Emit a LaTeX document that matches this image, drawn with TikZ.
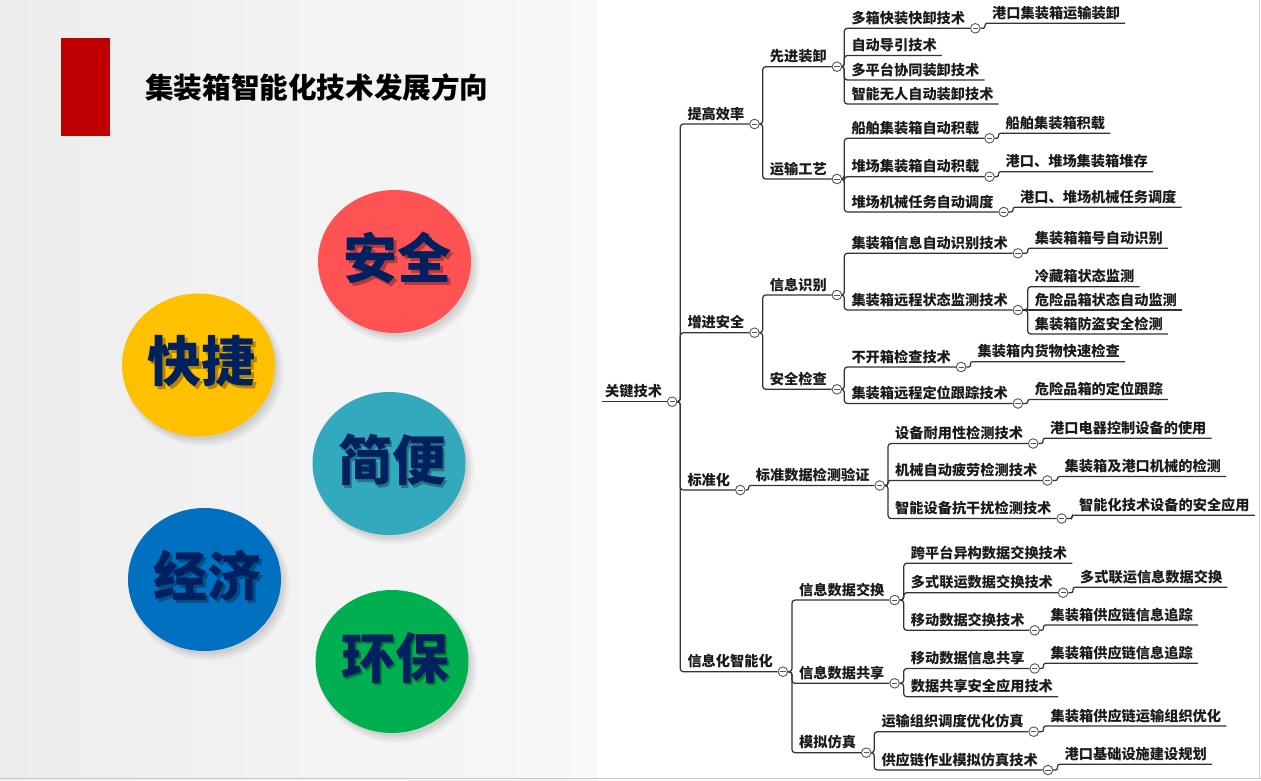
\documentclass[tikz,border=0pt]{standalone}
\usepackage{fontspec}
\newfontfamily\cjk{Noto Sans CJK SC}
\usetikzlibrary{calc,shapes.geometric}
\pgfdeclarelayer{bg}\pgfdeclarelayer{lines}
\pgfsetlayers{bg,lines,main}
\definecolor{bgl}{HTML}{EDEDED}
\definecolor{bgr}{HTML}{F8F8F8}
\definecolor{redbar}{HTML}{C00000}
\definecolor{navy}{HTML}{002060}
\definecolor{cred}{HTML}{FF5252}
\definecolor{cyel}{HTML}{FFC000}
\definecolor{cteal}{HTML}{33A9BD}
\definecolor{cblue}{HTML}{0070C0}
\definecolor{cgreen}{HTML}{00B050}
\definecolor{lnc}{HTML}{333333}
\definecolor{crc}{HTML}{555555}
\definecolor{txc}{HTML}{1A1A1A}
\newcommand\mmc[4]{%
  \coordinate (#1-s) at (#2,#3);
  \node[mmtext] (#1) at (#2+7,#3-5) {#4};
  \node[mmcirc] (#1-c) at ($(#1.east|-#1-s)+(10,0)$) {};
  \coordinate (#1-e) at (#1-c.west);}
\newcommand\mml[4]{%
  \coordinate (#1-s) at (#2,#3);
  \node[mmtext] (#1) at (#2+7,#3-5) {#4};
  \coordinate (#1-e) at ($(#1.east|-#1-s)+(5,0)$);}
\newcommand\mmlink[3][3]{\draw[conn,rounded corners=#1] (#2-c.east) -- (#2-c.east -| #3-s) -- (#3-s) -- (#3-e);}
\newcommand\bubble[5]{%
  \fill[black,opacity=0.04] (#2+5,#3+6) ellipse [x radius=80, y radius=75];
  \fill[black,opacity=0.05] (#2+4,#3+5) ellipse [x radius=78, y radius=73];
  \fill[black,opacity=0.06] (#2+3,#3+4) ellipse [x radius=76, y radius=71];
  \node[ellipse,fill=#4,minimum width=153pt,minimum height=143pt,inner sep=0] (#1) at (#2,#3) {};
  \node[bubtext,text=black,opacity=0.3] (#1-sh) at ($(#1)+(5.5,-1)$) {#5};
  \node[bubtext] (#1-t) at ($(#1)+(3,-3.5)$) {#5};}
\begin{document}
\begin{tikzpicture}[x=1pt,y=-1pt,
  mmtext/.style={anchor=base west,inner sep=0,text=txc,font={\cjk\bfseries\fontsize{14.2}{14.2}\selectfont}},
  mmcirc/.style={circle,draw=crc,line width=0.9pt,fill=white,minimum size=9.6pt,inner sep=0,
    path picture={\draw[crc,line width=0.9pt] ([xshift=-2.6pt]path picture bounding box.center) -- ([xshift=2.6pt]path picture bounding box.center);}},
  conn/.style={draw=lnc,line width=1.25pt},
  bubtext/.style={inner sep=0,text=navy,font={\cjk\bfseries\fontsize{54}{54}\selectfont}}]
\useasboundingbox (0,0) rectangle (1261,780);
\begin{pgfonlayer}{bg}
\shade[left color=bgl,right color=bgr] (0,0) rectangle (597,780);
\fill[white] (597,0) rectangle (1261,780);
\draw[black!22,line width=1pt] (0,778.5) -- (1261,778.5);
\draw[black!18,line width=1pt] (1259.5,0) -- (1259.5,778);
\end{pgfonlayer}
% left panel
\fill[redbar] (61,38) rectangle (110,136);
\node[anchor=base west,inner sep=0,text=black,font={\cjk\bfseries\fontsize{28.6}{28.6}\selectfont}] (title) at (145,98) {集装箱智能化技术发展方向};
\bubble{s1}{394.5}{261.5}{cred}{安全}
\bubble{s2}{198.5}{365}{cyel}{快捷}
\bubble{s3}{389}{463.5}{cteal}{简便}
\bubble{s4}{204.5}{579.5}{cblue}{经济}
\bubble{s5}{392}{661.5}{cgreen}{环保}
% mind map nodes
\coordinate (R-s) at (602,401.7);
\node[mmtext] (R) at (605,396.7) {关键技术};
\node[mmcirc] (R-c) at ($(R.east|-R-s)+(10,0)$) {};
\mmc{A}{680.3}{124}{提高效率}
\mmc{B}{680.3}{332.7}{增进安全}
\mmc{C}{680.3}{490}{标准化}
\mmc{D}{680.3}{671.7}{信息化智能化}
\mmc{A1}{762.7}{66.7}{先进装卸}
\mmc{A2}{762.7}{179}{运输工艺}
\mmc{A11}{844.3}{28.3}{多箱快装快卸技术}
\mml{A12}{844.3}{55.5}{自动导引技术}
\mml{A13}{844.3}{80}{多平台协同装卸技术}
\mml{A14}{844.3}{104}{智能无人自动装卸技术}
\mml{A111}{985}{23.3}{港口集装箱运输装卸}
\mmc{A21}{844.3}{138.3}{船舶集装箱自动积载}
\mmc{A22}{844.3}{176.7}{堆场集装箱自动积载}
\mmc{A23}{844.3}{212}{堆场机械任务自动调度}
\mml{A211}{998.5}{133.3}{船舶集装箱积载}
\mml{A221}{998.5}{171.7}{港口、堆场集装箱堆存}
\mml{A231}{1013}{207.3}{港口、堆场机械任务调度}
\mmc{B1}{762.7}{295}{信息识别}
\mmc{B2}{762.7}{389.3}{安全检查}
\mmc{B11}{844.3}{253.3}{集装箱信息自动识别技术}
\mmc{B12}{844.3}{310}{集装箱远程状态监测技术}
\mml{B111}{1027.7}{248.3}{集装箱箱号自动识别}
\mml{B121}{1027.7}{286.7}{冷藏箱状态监测}
\mml{B122}{1027.7}{310}{危险品箱状态自动监测}
\mml{B123}{1027.7}{334}{集装箱防盗安全检测}
\mmc{B21}{844.3}{367}{不开箱检查技术}
\mmc{B22}{844.3}{403.5}{集装箱远程定位跟踪技术}
\mml{B211}{970.5}{361.7}{集装箱内货物快速检查}
\mml{B221}{1027.7}{399.5}{危险品箱的定位跟踪}
\mmc{C1}{748.7}{485.5}{标准数据检测验证}
\mmc{C11}{888}{443.5}{设备耐用性检测技术}
\mmc{C12}{888}{480.5}{机械自动疲劳检测技术}
\mmc{C13}{888}{518.5}{智能设备抗干扰检测技术}
\mml{C111}{1043}{438.3}{港口电器控制设备的使用}
\mml{C121}{1057.5}{476.5}{集装箱及港口机械的检测}
\mml{C131}{1072}{515.3}{智能化技术设备的安全应用}
\mmc{D1}{792}{600}{信息数据交换}
\mmc{D2}{792}{683.3}{信息数据共享}
\mmc{D3}{792}{752.7}{模拟仿真}
\mml{D11}{903.7}{563.3}{跨平台异构数据交换技术}
\mmc{D12}{903.7}{592.7}{多式联运数据交换技术}
\mmc{D13}{903.7}{630.3}{移动数据交换技术}
\mml{D121}{1073}{587.3}{多式联运信息数据交换}
\mml{D131}{1043.5}{625}{集装箱供应链信息追踪}
\mmc{D21}{903.7}{668.5}{移动数据信息共享}
\mml{D22}{903.7}{696.7}{数据共享安全应用技术}
\mml{D211}{1043.5}{663.3}{集装箱供应链信息追踪}
\mmc{D31}{874.3}{731.7}{运输组织调度优化仿真}
\mmc{D32}{874.3}{770}{供应链作业模拟仿真技术}
\mml{D311}{1043.5}{726}{集装箱供应链运输组织优化}
\mml{D321}{1057.5}{764.3}{港口基础设施建设规划}
% connectors
\begin{pgfonlayer}{lines}
\draw[conn] (R-s) -- (R-c.west);
\mmlink{R}{A}\mmlink{R}{B}\mmlink{R}{C}\mmlink{R}{D}
\mmlink{A}{A1}\mmlink{A}{A2}
\mmlink{A1}{A11}\mmlink{A1}{A12}\mmlink{A1}{A13}\mmlink{A1}{A14}
\mmlink[2]{A11}{A111}
\mmlink{A2}{A21}\mmlink{A2}{A22}\mmlink{A2}{A23}
\mmlink[2]{A21}{A211}\mmlink[2]{A22}{A221}\mmlink[2]{A23}{A231}
\mmlink{B}{B1}\mmlink{B}{B2}
\mmlink{B1}{B11}\mmlink{B1}{B12}
\mmlink[2]{B11}{B111}
\mmlink{B12}{B121}\mmlink{B12}{B123}
\draw[conn] (B12-c.east) -- (B122-e);
\mmlink{B2}{B21}\mmlink{B2}{B22}
\mmlink[2]{B21}{B211}\mmlink[2]{B22}{B221}
\mmlink[2]{C}{C1}
\mmlink{C1}{C11}\mmlink[2]{C1}{C12}\mmlink{C1}{C13}
\mmlink[2]{C11}{C111}\mmlink[2]{C12}{C121}\mmlink[2]{C13}{C131}
\mmlink{D}{D1}\mmlink{D}{D2}\mmlink{D}{D3}
\mmlink{D1}{D11}\mmlink{D1}{D12}\mmlink{D1}{D13}
\mmlink[2]{D12}{D121}\mmlink[2]{D13}{D131}
\mmlink{D2}{D21}\mmlink{D2}{D22}
\mmlink[2]{D21}{D211}
\mmlink{D3}{D31}\mmlink{D3}{D32}
\mmlink[2]{D31}{D311}\mmlink[2]{D32}{D321}
\end{pgfonlayer}
\end{tikzpicture}
\end{document}
